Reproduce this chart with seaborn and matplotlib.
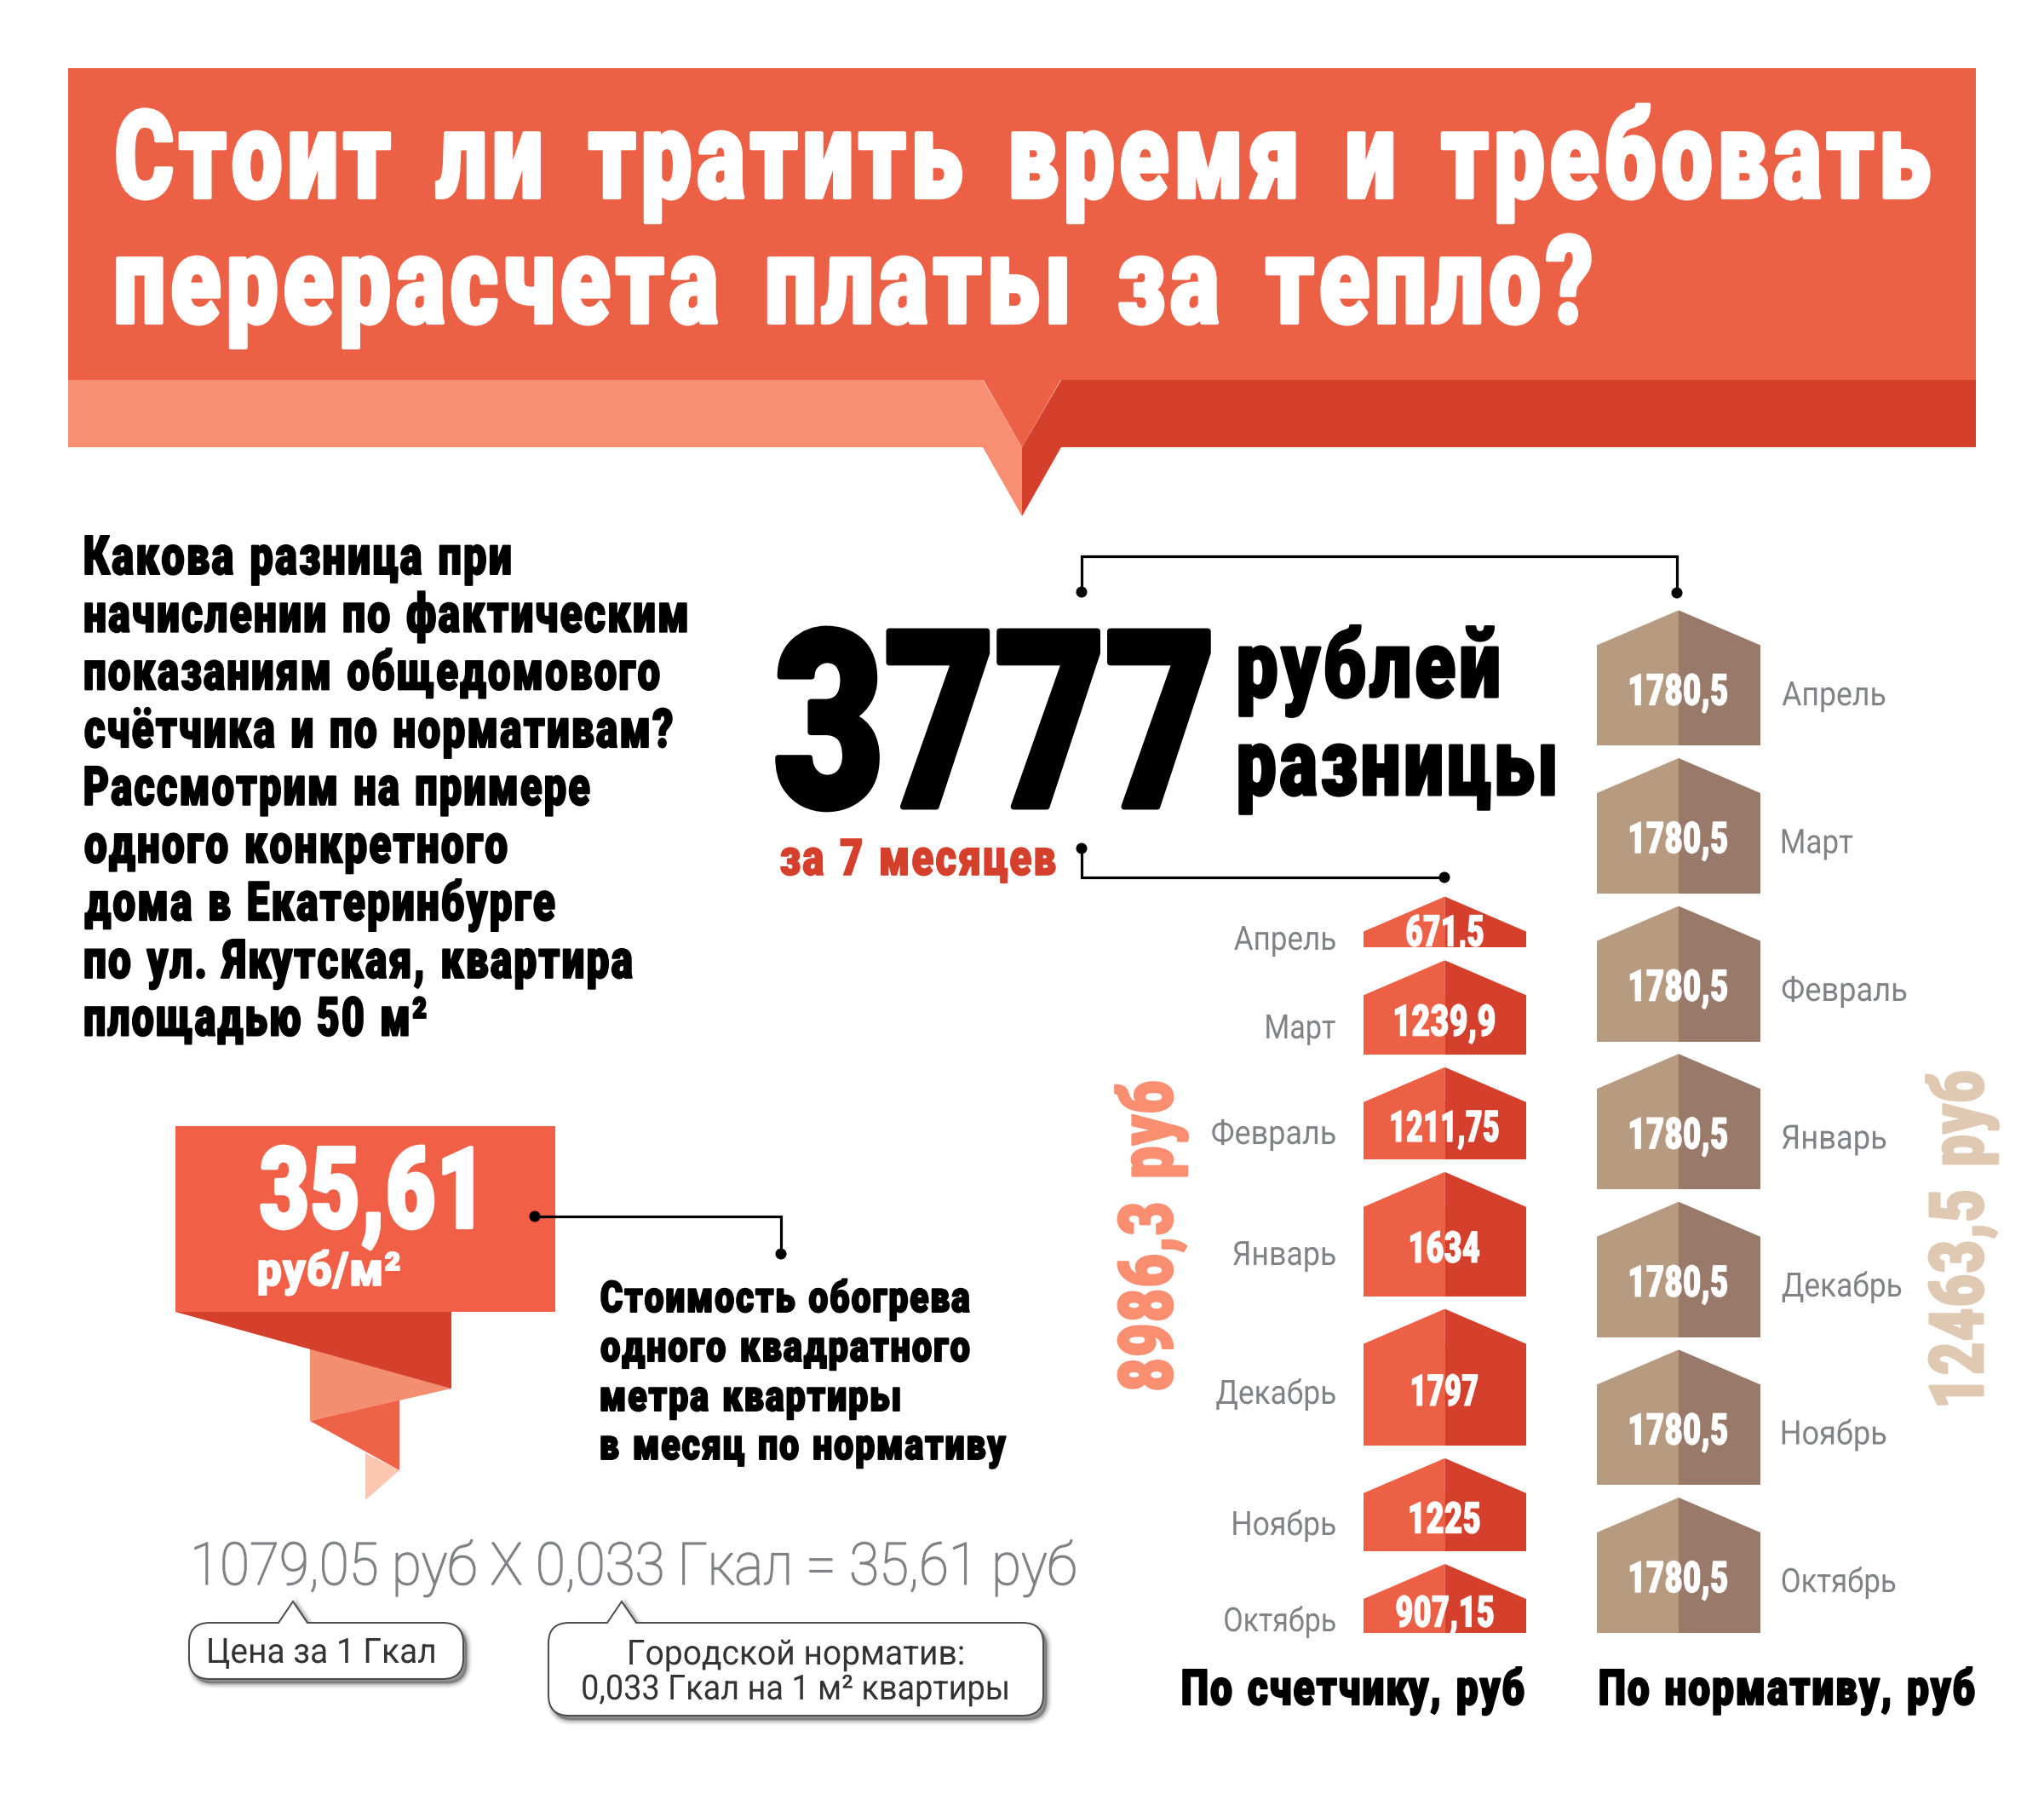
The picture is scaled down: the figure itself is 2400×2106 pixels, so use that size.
import matplotlib
matplotlib.use("Agg")
import numpy as np
import matplotlib.pyplot as plt
import seaborn as sns
from matplotlib.patches import Polygon, Rectangle, Circle, PathPatch
from matplotlib.path import Path
from matplotlib.patheffects import AbstractPathEffect
from matplotlib.transforms import Affine2D

# ---- data ----
MONTHS = ["Октябрь", "Ноябрь", "Декабрь", "Январь", "Февраль", "Март", "Апрель"]
METER_VALUES = [907.15, 1225, 1797, 1634, 1211.75, 1239.9, 671.5]
NORM_VALUES = [1780.5, 1780.5, 1780.5, 1780.5, 1780.5, 1780.5, 1780.5]
METER_TOTAL = "8986,3 руб"
NORM_TOTAL = "12463,5 руб"

W, H = 2400, 2106
PX_PER_RUB = 0.0893
ROOF = 41 / PX_PER_RUB
BASE_PX = 1917
M_GAP = 14.8 / PX_PER_RUB
N_GAP = 14.6 / PX_PER_RUB

CORAL = "#EC6046"
DARK = "#D4402C"
LIGHT = "#F88E72"
TAN_L = "#B79B80"
TAN_R = "#98796A"

sns.set_theme(style="white", rc={"font.family": "Roboto"})
fig = plt.figure(figsize=(W / 100, H / 100), dpi=100, facecolor="white")


def make_axes(z):
    a = fig.add_axes([0, 0, 1, 1], zorder=z)
    a.patch.set_alpha(0)
    a.set_axis_off()
    return a


bg = make_axes(0)
ax = make_axes(1)
fg = make_axes(2)
for a in (bg, fg):
    a.set_xlim(0, W)
    a.set_ylim(H, 0)


class Fit(AbstractPathEffect):
    """Draw a text's glyphs spaced out and stretched: ink spans `width` px, height scaled by sy."""

    def __init__(self, width, sy=1.0, stroke=0.0, track=0.0, word=0.0):
        super().__init__()
        self.width, self.sy, self.stroke, self.track, self.word = width, sy, stroke, track, word

    def draw_path(self, renderer, gc, tpath, affine, rgbFace=None):
        v = tpath.vertices.copy()
        c = tpath.codes
        starts = np.flatnonzero(c == Path.MOVETO)
        ends = np.append(starts[1:], len(v))
        keep = c != Path.CLOSEPOLY
        spans = []
        for s, e in zip(starts, ends):
            xs = v[s:e, 0][keep[s:e]]
            spans.append([xs.min(), xs.max(), s, e])
        spans.sort(key=lambda r: r[0])
        shift, right = 0.0, None
        for x0, x1, s, e in spans:
            if right is not None and x0 >= right:
                shift += self.track + (self.word if x0 - right > 23 else 0.0)
            right = x1 if right is None else max(right, x1)
            v[s:e, 0] += shift
        xmin, xmax = v[keep, 0].min(), v[keep, 0].max()
        m = affine.get_matrix()
        k = np.hypot(m[0, 0], m[1, 0])
        pad = self.stroke * 100 / 72 + 2.5
        s = (self.width - pad) / (k * (xmax - xmin))
        aff = Affine2D().translate(-xmin, 0).scale(s, self.sy).translate(pad / 2 / k, 0) + affine
        g = renderer.new_gc()
        g.copy_properties(gc)
        g.set_foreground(rgbFace)
        g.set_linewidth(self.stroke)
        g.set_joinstyle("round")
        renderer.draw_path(g, Path(v, c), aff, rgbFace)
        g.restore()


renderer = fig.canvas.get_renderer()


def label(a, x, y, s, cap, width, color, weight="bold", stroke=0.0, rot=0, track=0.0, word=0.0):
    """Text with baseline starting at (x, y), fitted along its direction to `width` px."""
    fs = cap / 0.711 * 72 / 100
    t = a.text(x, y, s, fontsize=fs, color=color, fontweight=weight, family="Roboto",
               ha="left", va="baseline", rotation=rot, rotation_mode="anchor", zorder=10)
    bb = t.get_window_extent(renderer)
    ratio = width / (bb.height if rot == 90 else bb.width)
    t.set_fontsize(fs * ratio)
    t.set_path_effects([Fit(width, 1 / ratio, stroke, track, word)])
    return t


def heavy(a, x, y, s, cap, width, color="black", stroke=1.6, rot=0, track=5.0, word=10.0):
    return label(a, x, y, s, cap, width, color, "black", stroke, rot, track, word)


def poly(pts, c, z=1):
    bg.add_patch(Polygon(pts, closed=True, fc=c, ec="none", zorder=z))


def connector(pts):
    xs, ys = zip(*pts)
    bg.plot(xs, ys, color="black", lw=2.3, solid_joinstyle="miter", zorder=5)
    for p in (pts[0], pts[-1]):
        bg.add_patch(Circle(p, 6.5, fc="black", ec="none", zorder=6))


# ---- banner ----
bg.add_patch(Rectangle((80, 80), 2240, 366, fc=CORAL, ec="none"))
poly([(80, 446), (1154, 446), (1200, 525), (1200, 606), (1154, 525), (80, 525)], LIGHT)
poly([(2320, 446), (1246, 446), (1200, 525), (1200, 606), (1246, 525), (2320, 525)], DARK)
poly([(1154, 445), (1246, 445), (1200, 525)], CORAL)
heavy(fg, 135, 232, "Стоит ли тратить время и требовать", 102, 2133, "white", 3.0, track=6, word=20)
heavy(fg, 135, 379, "перерасчета платы за тепло?", 102, 1735, "white", 3.0, track=6, word=20)

# ---- intro paragraph ----
INTRO = ["Какова разница при", "начислении по фактическим", "показаниям общедомового",
         "счётчика и по нормативам?", "Рассмотрим на примере", "одного конкретного",
         "дома в Екатеринбурге", "по ул. Якутская, квартира", "площадью 50 м²"]
INTRO_W = [503, 710, 678, 693, 596, 499, 555, 646, 404]
for i, (s, w) in enumerate(zip(INTRO, INTRO_W)):
    heavy(fg, 98, 674 + i * 67.7, s, 45, w, stroke=1.4)

# ---- big number ----
heavy(fg, 909, 947, "3777", 206, 514, stroke=5, track=0, word=0)
heavy(fg, 1453, 818, "рублей", 78, 308, stroke=2.2)
heavy(fg, 1453, 933, "разницы", 78, 374, stroke=2.2)
heavy(fg, 915, 1027, "за 7 месяцев", 42, 326, DARK, stroke=1.2)
connector([(1270, 695), (1270, 653), (1969, 653), (1969, 696)])
connector([(1270, 996), (1270, 1030), (1696, 1030)])

# ---- price ribbon ----
poly([(206, 1540), (530, 1540), (530, 1630)], DARK, 2)
poly([(364, 1540), (530, 1540), (530, 1630), (364, 1583)], DARK, 2)
poly([(364, 1583), (530, 1630), (364, 1668)], "#F48E70", 1.8)
poly([(364, 1668), (469, 1643), (469, 1726)], "#EE6248", 1.6)
poly([(429, 1706), (469, 1726), (429, 1761)], "#FCC6B1", 1.4)
bg.add_patch(Rectangle((206, 1322), 446, 218, fc="#F25F47", ec="none", zorder=3))
heavy(fg, 304, 1441, "35,61", 94, 253, "white", 3, track=2, word=0)
heavy(fg, 302, 1509, "руб/м²", 39, 169, "white", 1.2, track=2, word=0)
connector([(628, 1428), (917, 1428), (917, 1472)])
CAPTION = ["Стоимость обогрева", "одного квадратного", "метра квартиры", "в месяц по нормативу"]
CAPTION_W = [436, 436, 354, 479]
CAPTION_Y = [1540, 1598, 1656, 1713]
for s, w, y in zip(CAPTION, CAPTION_W, CAPTION_Y):
    heavy(fg, 704, y, s, 36, w, stroke=1.4)

# ---- formula ----
label(fg, 227, 1860, "1079,05 руб X 0,033 Гкал = 35,61 руб", 49, 1037, "#808185", "light", 1.0)


def bubble(x0, x1, y0, y1, tip_x, tip_half, tip_y, r=24):
    v = [(x0 + r, y0), (tip_x - tip_half, y0), (tip_x, tip_y), (tip_x + tip_half, y0),
         (x1 - r, y0), (x1, y0), (x1, y0 + r), (x1, y1 - r), (x1, y1), (x1 - r, y1),
         (x0 + r, y1), (x0, y1), (x0, y1 - r), (x0, y0 + r), (x0, y0), (x0 + r, y0)]
    c = [Path.MOVETO, Path.LINETO, Path.LINETO, Path.LINETO, Path.LINETO, Path.CURVE3, Path.CURVE3,
         Path.LINETO, Path.CURVE3, Path.CURVE3, Path.LINETO, Path.CURVE3, Path.CURVE3,
         Path.LINETO, Path.CURVE3, Path.CURVE3]
    p = Path(v, c)
    for lw, al in ((9, .06), (7, .08), (5, .12), (3, .18), (1, .3)):
        bg.add_patch(PathPatch(p.transformed(Affine2D().translate(4, 5)), fc="#555555", ec="#555555",
                               lw=lw, alpha=al, zorder=3))
    bg.add_patch(PathPatch(p, fc="white", ec="#4A4A4A", lw=1.4, zorder=4))


bubble(222, 544, 1905, 1971, 344, 17, 1880)
bubble(644, 1225, 1905, 2014, 730, 17, 1880)
label(fg, 244, 1952, "Цена за 1 Гкал", 29, 267, "#333333", "normal")
label(fg, 738, 1954, "Городской норматив:", 29, 394, "#333333", "normal")
label(fg, 683, 1995, "0,033 Гкал на 1 м² квартиры", 29, 501, "#333333", "normal")

# ---- house columns, through seaborn bars on a rouble y axis ----
ax.set_xlim(0, W)
ax.set_ylim(-(H - BASE_PX) / PX_PER_RUB, BASE_PX / PX_PER_RUB)


def house_column(values, xl, xr, gap, c_l, c_r):
    xc = (xl + xr) / 2
    half = (xr - xl) / 2
    lap = 1.5 / PX_PER_RUB  # roof laps over the wall so that no seam shows
    bottom = 0.0
    centers = []
    for v in values:
        body = v - ROOF
        for cx, col in ((xl + half / 2, c_l), (xc + half / 2, c_r)):
            sns.barplot(x=[cx], y=[body], bottom=bottom, native_scale=True, width=half,
                        color=col, saturation=1, errorbar=None, linewidth=0, ax=ax)
        eave = bottom + body
        ax.fill([xl, xc, xc, xl], [eave, eave + ROOF, eave - lap, eave - lap], color=c_l, lw=0)
        ax.fill([xc, xc, xr, xr], [eave - lap, eave + ROOF, eave, eave - lap], color=c_r, lw=0)
        centers.append(bottom + body / 2)
        bottom += v + gap
    return centers


m_centers = house_column(METER_VALUES, 1601, 1792, M_GAP, CORAL, DARK)
n_centers = house_column(NORM_VALUES, 1875, 2067, N_GAP, TAN_L, TAN_R)
ax.set_xlim(0, W)
ax.set_ylim(-(H - BASE_PX) / PX_PER_RUB, BASE_PX / PX_PER_RUB)
ax.set_axis_off()

fmt = lambda v: f"{v:g}".replace(".", ",")
M_VAL_W = [117, 85, 80, 84, 129, 120, 93]
M_NUDGE = [6, 6, 6, 6, 6, 6, 11]
for v, c, w, n in zip(METER_VALUES, m_centers, M_VAL_W, M_NUDGE):
    heavy(ax, 1696.5 - w / 2, c + (n - 18.5) / PX_PER_RUB, fmt(v), 36, w, "white", 1.0, track=2, word=0)
for v, c in zip(NORM_VALUES, n_centers):
    heavy(ax, 1971 - 58.5, c + (7.5 - 18.5) / PX_PER_RUB, fmt(v), 36, 117, "white", 1.0, track=2, word=0)

M_LABEL_Y = [1915, 1802, 1648, 1485, 1343, 1219, 1115]
M_LABEL_W = [132, 122, 142, 122, 147, 83, 121]
for s, y, w in zip(MONTHS, M_LABEL_Y, M_LABEL_W):
    label(fg, 1569 - w, y, s, 28, w, "#808285", "normal")
N_LABEL_W = [135, 124, 142, 124, 148, 85, 123]
for i, (s, w) in enumerate(zip(MONTHS, N_LABEL_W)):
    label(fg, 2091.5, 1869 - i * 173.5, s, 28, w, "#808285", "normal")

heavy(fg, 1376, 1633, METER_TOTAL, 62, 365, "#F98E71", 2.2, rot=90, track=4, word=14)
heavy(fg, 2328, 1651, NORM_TOTAL, 62, 395, "#E0C9B3", 2.2, rot=90, track=4, word=14)

heavy(fg, 1387, 2001, "По счетчику, руб", 41, 404, stroke=1.5)
heavy(fg, 1877, 2001, "По нормативу, руб", 41, 443, stroke=1.5)

fig.savefig("out.png", dpi=100, facecolor="white")
